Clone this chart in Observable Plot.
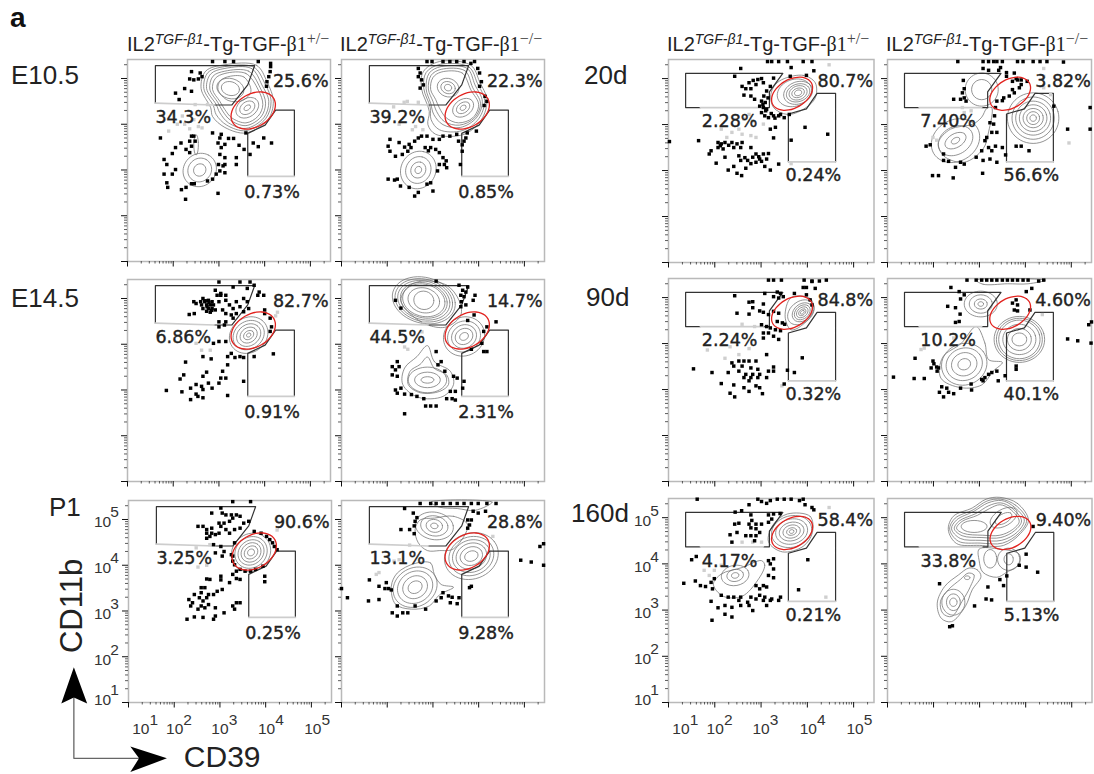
<!DOCTYPE html>
<html><head><meta charset="utf-8">
<script src="https://cdn.jsdelivr.net/npm/d3@7"></script>
<script src="https://cdn.jsdelivr.net/npm/@observablehq/plot@0.6"></script>
<style>
html,body{margin:0;padding:0;background:#fff}
#page{position:relative;width:1094px;height:774px;overflow:hidden;font-family:"Liberation Sans",sans-serif;color:#222}
.t{position:absolute;white-space:nowrap;line-height:1}
.title{font-size:20px;top:34px}
.title .s{font-size:14px;position:relative;top:-7px}
.title .b{font-family:"Liberation Serif",serif}
.title .s.b{font-size:16px;color:#444}
.row{font-size:26px}
</style></head><body><div id="page"></div>
<script>
// All values below are log10(CD39), log10(CD11b) pairs.
const rowNames = ["E10.5","E14.5","P1","20d","90d","160d"];
const xTicks = [1e1,1e2,1e3,1e4,1e5];
const yTicks = [1e1,1e2,1e3,1e4,1e5];
const xTickText = ["1","2","3","4","5"];
const yTickText = ["1","2","3","4","5"];

const gateUpperLeftBlack = [1.61,4.46,1.61,5.28,3.78,5.28,3.63,4.86,3.28,4.42,2.90,4.42];
const gateUpperLeftGray  = [2.90,4.42,1.61,4.46];
const gateLowerLeftBlack = [3.63,2.86,3.63,3.80,4.01,3.98,4.24,4.31,4.65,4.31,4.65,2.86];
const gateLowerLeftGray  = [4.65,2.86,3.63,2.86];
const gateUpperRightBlack = [1.69,4.37,1.37,4.37,1.37,5.115,3.47,5.115,3.18,4.71,3.18,4.37,3.05,4.37];
const gateUpperRightGray  = [3.05,4.37,1.69,4.37];
const gateLowerRightBlack = [3.59,3.19,3.59,4.23,3.98,4.34,4.21,4.68,4.61,4.68,4.61,3.19];
const gateLowerRightGray  = [4.61,3.19,3.59,3.19];
const redLeft  = [3.75,4.30,0.52,0.36,30];
const redRight = [3.67,4.67,0.48,0.31,30];

const pctE105Het = ["25.6%","34.3%","0.73%"];
const pctE105Ko  = ["22.3%","39.2%","0.85%"];
const pctE145Het = ["82.7%","6.86%","0.91%"];
const pctE145Ko  = ["14.7%","44.5%","2.31%"];
const pctP1Het   = ["90.6%","3.25%","0.25%"];
const pctP1Ko    = ["28.8%","13.1%","9.28%"];
const pct20Het   = ["80.7%","2.28%","0.24%"];
const pct20Ko    = ["3.82%","7.40%","56.6%"];
const pct90Het   = ["84.8%","2.24%","0.32%"];
const pct90Ko    = ["4.60%","10.2%","40.1%"];
const pct160Het  = ["58.4%","4.17%","0.21%"];
const pct160Ko   = ["9.40%","33.8%","5.13%"];
const pctSpotsLeft  = [4.79,4.93,2.22,4.16,4.16,2.52];
const pctSpotsRight = [4.82,4.94,2.32,4.06,4.13,2.89];

const dotsE105Het = [2.86,5.37,3.13,5.37,3.32,5.37,3.86,5.37,4.13,5.33,4.13,5.26,4.12,5.15,4.09,5.04,4.05,4.93,4.04,4.83,2.40,5.15,2.59,5.12,2.36,4.99,2.45,4.97,2.63,5.04,2.55,4.99,2.25,4.78,2.05,4.68,2.40,4.72,2.13,4.54,1.72,3.70,2.17,3.59,2.05,3.49,2.40,3.74,2.45,3.74,2.36,3.63,2.48,3.63,2.40,3.52,2.28,3.45,2.36,3.38,1.98,3.36,1.80,3.23,1.86,3.12,2.05,3.01,1.98,2.91,1.80,2.91,1.86,2.72,1.88,2.62,2.18,2.57,2.28,2.62,2.40,2.70,2.46,2.70,2.27,2.36,2.98,2.49,2.86,2.80,2.75,2.76,2.94,2.91,3.13,2.94,3.02,2.98,3.09,3.09,2.99,3.12,3.13,3.12,3.38,3.12,3.38,3.27,3.13,3.27,3.02,3.34,3.05,3.49,2.98,3.59,3.13,3.56,3.02,3.70,2.86,3.81,3.05,3.78,3.21,3.69,3.32,3.69,3.44,3.54,3.55,3.45,3.68,3.34,3.75,3.59,3.86,3.51,3.98,3.70,4.15,3.59,3.59,3.81];
const grayE105Het = [2.13,4.54,2.48,4.43,2.75,4.43,2.20,4.18,2.09,4.00,1.90,3.85,2.36,3.90,2.63,3.92,2.25,4.00,2.45,4.10,2.55,3.95];
const ringsE105Het = [[3.13,5.30,3.82,5.29,4.05,4.93,4.19,4.50,4.07,4.10,3.59,3.81,3.13,3.93,2.86,4.17,2.82,4.36,2.61,4.78,2.71,5.16],[3.13,5.26,3.76,5.25,4.00,4.90,4.14,4.50,4.02,4.12,3.59,3.86,3.17,3.98,2.94,4.21,2.88,4.40,2.67,4.78,2.76,5.13],[3.13,5.22,3.71,5.22,3.94,4.86,4.09,4.50,3.98,4.14,3.59,3.91,3.21,4.03,3.02,4.25,2.94,4.43,2.73,4.78,2.82,5.10],[3.13,5.16,3.65,5.16,3.90,4.80,4.02,4.46,3.92,4.16,3.59,3.97,3.25,4.09,3.08,4.29,2.98,4.47,2.80,4.77,2.87,5.05],[3.13,5.11,3.59,5.11,3.86,4.75,3.96,4.43,3.86,4.18,3.59,4.03,3.28,4.14,3.13,4.32,3.02,4.50,2.86,4.76,2.92,5.00],[3.25,5.05,3.55,5.03,3.70,4.72,3.52,4.52,3.20,4.52,2.98,4.76,3.03,4.95],[3.25,4.78,0.30,0.22,-15],[3.25,4.78,0.20,0.15,-15],[3.62,4.36,0.27,0.20,35],[3.62,4.36,0.18,0.13,35],[3.62,4.36,0.08,0.05,35],[2.58,3.00,0.38,0.35,45],[2.58,3.00,0.27,0.25,45],[2.58,3.00,0.14,0.13,45],[2.50,3.55,0.05,0.22,0]];

const dotsE105Ko = [2.87,5.37,2.98,5.37,3.22,5.37,3.37,5.37,3.52,5.37,3.68,5.37,3.91,5.37,2.68,5.22,2.72,5.12,2.75,4.97,2.68,5.04,2.79,4.86,2.72,4.79,3.83,5.33,3.98,5.22,4.02,5.12,4.06,4.93,4.02,4.83,4.14,4.61,4.18,4.50,4.12,4.41,2.06,3.67,2.02,3.52,2.06,3.41,2.18,3.30,2.33,3.34,2.45,3.41,2.52,3.49,2.48,3.56,2.68,3.70,2.87,3.74,2.95,3.49,2.83,3.49,3.06,3.45,3.14,3.38,3.22,3.27,3.29,3.20,3.14,3.12,3.25,3.12,3.10,2.98,2.95,2.72,2.87,2.69,2.68,2.51,2.60,2.43,3.00,2.54,2.02,2.80,2.22,2.80,2.29,2.65,2.48,2.62,3.60,3.12,3.64,3.41,3.68,3.63,3.72,3.70,3.52,3.78,3.37,3.74,3.22,3.74,3.14,3.67,3.56,3.63,3.75,3.81,3.95,3.85,2.60,3.63,2.75,3.74,3.00,3.67,2.26,3.60,2.38,3.50,3.64,3.55,3.30,3.05,2.16,2.78,2.90,3.42];
const grayE105Ko = [2.37,4.48,2.44,4.50,2.14,4.38,2.68,4.48,2.26,4.00,1.95,4.04,2.55,3.88,2.78,3.88,2.62,3.95,4.18,4.54];
const ringsE105Ko = [[3.14,5.37,3.83,5.29,4.02,4.93,4.18,4.53,4.06,4.10,3.68,3.78,3.06,3.78,2.89,3.99,2.92,4.28,2.75,4.78,2.79,5.15],[3.16,5.31,3.79,5.25,3.97,4.90,4.13,4.52,4.00,4.12,3.64,3.86,3.14,3.88,2.96,4.10,2.94,4.37,2.80,4.78,2.85,5.13],[3.18,5.26,3.75,5.22,3.92,4.86,4.08,4.50,3.95,4.14,3.60,3.93,3.22,3.99,3.02,4.21,2.95,4.46,2.85,4.78,2.92,5.12],[3.18,5.20,3.70,5.17,3.87,4.80,4.04,4.46,3.91,4.14,3.58,3.98,3.25,4.06,3.08,4.28,3.00,4.50,2.90,4.77,2.96,5.07],[3.18,5.14,3.64,5.12,3.83,4.75,4.00,4.43,3.87,4.14,3.56,4.03,3.29,4.14,3.14,4.36,3.06,4.54,2.95,4.76,3.00,5.02],[3.33,4.80,0.24,0.20,-20],[3.33,4.80,0.16,0.13,-20],[3.33,4.80,0.08,0.07,-20],[3.66,4.36,0.25,0.18,35],[3.66,4.36,0.16,0.11,35],[3.66,4.36,0.07,0.05,35],[2.68,3.00,0.42,0.38,60],[2.68,3.00,0.30,0.27,60],[2.68,3.00,0.18,0.16,60],[2.68,3.00,0.08,0.07,60]];

const dotsE145Het = [3.00,5.36,3.46,5.36,3.68,5.36,2.92,5.18,3.31,5.25,3.77,5.29,3.62,5.22,3.88,5.14,3.98,5.07,3.85,5.07,2.45,4.93,2.50,4.89,2.65,5.00,2.69,4.93,2.77,4.96,2.85,4.93,2.62,4.86,2.73,4.86,2.81,4.86,2.88,4.86,2.65,4.78,2.77,4.78,2.85,4.78,2.73,4.72,2.81,4.70,2.92,4.75,3.00,4.93,3.04,5.07,3.15,4.96,3.23,4.86,3.31,4.78,3.38,4.93,3.54,5.00,3.62,4.93,3.46,4.82,3.65,4.78,3.15,4.67,3.08,4.75,3.27,4.64,2.35,4.65,2.46,4.67,3.00,4.49,3.15,4.49,3.31,4.57,3.04,5.11,2.96,5.07,3.15,5.07,3.54,4.71,3.38,4.67,2.70,4.95,2.78,4.91,2.74,4.82,2.60,4.93,2.84,4.74,4.00,4.67,4.12,4.57,4.15,4.38,4.12,4.28,4.00,4.75,3.00,4.38,3.12,4.42,3.00,4.06,3.15,4.06,2.88,4.02,2.65,3.73,2.83,3.68,2.27,3.61,3.19,3.73,3.27,3.80,3.35,3.71,3.46,3.73,3.54,3.71,3.77,3.73,4.19,3.79,3.19,3.55,3.08,3.41,2.73,3.39,2.65,3.30,2.23,3.33,2.15,3.24,3.04,3.26,3.15,3.26,2.77,3.15,2.62,3.08,2.50,3.12,2.38,3.04,2.65,3.01,2.85,3.04,3.00,3.15,1.85,2.99,2.19,2.96,2.54,2.86,2.65,2.83,2.38,2.79,3.19,2.88,3.54,3.19,2.50,2.91];
const grayE145Het = [2.62,3.87,2.81,3.87,2.50,4.02,4.24,4.62,4.28,4.70];
const ringsE145Het = [[3.65,4.20,0.44,0.38,35],[3.65,4.20,0.36,0.30,35],[3.65,4.20,0.28,0.23,35],[3.65,4.20,0.20,0.16,35],[3.65,4.20,0.12,0.09,35],[3.65,4.20,0.05,0.04,35]];

const dotsE145Ko = [3.07,5.38,3.57,5.29,3.76,5.25,3.65,5.18,3.72,5.14,3.92,5.07,3.61,5.07,3.68,5.04,3.88,4.96,3.62,4.93,3.72,4.86,3.61,4.82,2.18,4.96,2.30,4.79,3.90,4.64,3.76,4.52,4.38,4.49,4.18,4.38,4.11,4.28,4.07,4.02,4.11,3.84,4.18,3.84,3.84,3.89,3.07,3.84,3.18,3.62,3.11,3.55,2.11,3.51,2.22,3.62,2.26,3.51,2.18,3.44,2.11,3.33,2.22,3.30,3.26,3.41,3.45,3.30,3.53,3.26,3.68,3.19,3.38,2.97,3.49,2.97,3.65,3.04,2.18,3.00,2.30,3.04,2.22,2.93,2.38,2.91,2.53,2.90,2.65,2.86,3.30,2.81,3.42,2.81,3.49,2.78,2.38,2.48,2.84,2.65,2.95,2.65,3.07,2.65,2.80,2.81];
const grayE145Ko = [2.38,3.94,2.45,3.89,2.80,4.49,2.76,4.27];
const ringsE145Ko = [[2.76,5.38,3.30,5.29,3.57,4.96,3.61,4.64,3.30,4.38,2.92,4.41,2.53,4.64,2.30,4.96,2.45,5.25],[2.80,4.96,0.70,0.50,-15],[2.80,4.96,0.64,0.46,-15],[2.80,4.96,0.58,0.42,-15],[2.80,4.96,0.52,0.38,-15],[2.80,4.96,0.47,0.35,-15],[2.80,4.96,0.35,0.27,-15],[2.80,4.96,0.22,0.20,-15],[3.68,4.17,0.46,0.42,30],[3.68,4.17,0.37,0.33,30],[3.68,4.17,0.28,0.25,30],[3.68,4.17,0.20,0.17,30],[3.68,4.17,0.10,0.08,30],[2.88,3.97,3.03,3.62,3.38,3.41,3.45,3.12,3.22,2.86,2.68,2.84,2.34,3.12,2.38,3.48,2.65,3.73],[2.88,3.72,3.03,3.47,3.30,3.33,3.34,3.12,3.15,2.97,2.72,2.94,2.46,3.12,2.50,3.41,2.72,3.56],[2.88,3.22,0.42,0.28,0],[2.88,3.22,0.28,0.17,0],[2.88,3.22,0.14,0.07,0]];

const dotsP1Het = [3.28,5.39,3.67,5.39,3.02,5.25,3.05,5.14,3.13,5.10,3.25,5.10,3.36,5.10,3.44,5.07,2.82,5.14,3.28,5.03,3.09,4.92,3.21,4.96,3.52,4.92,3.63,4.96,2.98,4.92,2.52,4.85,2.63,4.85,2.71,4.78,2.82,4.81,3.02,4.85,3.13,4.78,3.32,4.78,3.44,4.81,2.71,4.70,2.82,4.70,2.98,4.70,3.21,4.70,2.78,4.63,2.90,4.67,2.71,4.59,3.02,4.41,2.86,4.45,3.32,4.49,3.09,4.30,2.90,4.27,3.05,4.20,3.25,4.23,3.75,4.74,3.90,4.70,4.02,4.63,4.09,4.56,4.15,4.49,4.19,4.41,4.25,4.34,3.28,4.20,3.28,4.09,3.32,4.01,3.44,3.91,3.55,3.87,3.67,3.87,3.78,3.91,3.94,3.98,3.98,3.76,3.98,3.64,3.36,3.87,3.28,3.80,3.36,3.71,3.44,3.69,3.21,3.62,3.02,3.76,3.02,3.68,2.71,3.70,2.78,3.69,3.05,3.47,2.94,3.43,2.67,3.51,2.59,3.51,2.59,3.40,2.44,3.36,2.75,3.36,2.86,3.36,2.55,3.29,2.71,3.29,2.32,3.25,2.63,3.22,2.40,3.18,2.75,3.14,2.36,3.11,2.59,3.11,2.67,3.07,2.52,3.04,2.90,3.07,3.09,2.96,3.28,3.11,3.36,3.18,3.44,3.18,3.32,3.04,2.28,2.82,2.44,2.87,2.63,2.86,2.86,2.82,2.90,2.89];
const grayP1Het = [2.52,3.96,2.71,4.00,2.48,4.38,2.78,4.45,4.25,4.77];
const ringsP1Het = [[3.68,4.28,0.45,0.40,40],[3.68,4.28,0.37,0.33,40],[3.68,4.28,0.30,0.26,40],[3.68,4.28,0.23,0.20,40],[3.68,4.28,0.16,0.13,40],[3.68,4.28,0.08,0.07,40]];

const dotsP1Ko = [2.72,5.35,2.95,5.35,3.07,5.35,3.22,5.35,3.38,5.35,3.53,5.35,3.68,5.35,3.84,5.35,3.99,5.35,4.18,5.35,4.38,5.35,2.38,5.24,2.57,5.14,2.65,5.04,2.61,4.96,2.59,4.86,2.30,4.78,2.49,4.78,2.59,4.69,3.76,4.99,3.84,4.99,3.80,4.88,3.76,4.81,3.99,5.14,4.15,5.18,3.88,5.18,1.61,3.68,1.82,3.54,1.98,3.62,2.03,3.49,2.09,3.46,1.95,3.49,1.59,3.22,1.82,3.25,2.11,2.96,2.22,2.89,2.34,2.96,2.45,2.96,2.22,3.11,2.61,3.11,2.84,3.04,3.07,3.22,3.18,3.29,3.22,3.40,3.34,3.33,3.42,3.30,3.57,3.29,3.38,3.18,3.53,3.16,3.80,3.51,3.84,3.54,1.13,3.29,1.00,3.49,4.92,4.11,5.15,4.07,5.42,4.00,5.34,4.41,5.42,4.47];
const grayP1Ko = [2.49,4.44,2.26,4.12,2.15,4.09,1.76,3.80,1.82,3.84,4.31,4.63];
const ringsP1Ko = [[3.03,5.03,3.45,5.07,3.76,4.88,3.45,4.36,3.14,4.32,2.88,4.32,2.68,4.49,2.61,4.78,2.72,4.99],[3.03,4.86,0.42,0.30,-10],[3.03,4.86,0.30,0.22,-10],[3.03,4.86,0.18,0.14,-10],[3.03,4.86,0.08,0.06,-10],[2.61,3.52,0.50,0.42,30],[2.61,3.52,0.40,0.34,30],[2.61,3.52,0.28,0.24,30],[2.61,3.52,0.16,0.13,30],[3.84,4.20,0.60,0.50,20],[3.84,4.20,0.50,0.42,20],[3.84,4.20,0.42,0.35,20],[3.84,4.20,0.34,0.28,20],[3.84,4.20,0.25,0.20,20],[3.84,4.20,0.15,0.11,20],[2.61,4.04,2.95,4.05,3.03,3.80,3.18,3.58,3.45,3.52,3.15,3.36,2.92,3.11,2.53,3.04,2.18,3.15,2.09,3.54,2.22,3.83],[2.95,5.38,4.30,5.38,3.92,5.20,3.53,5.24,3.14,5.27]];

const dots20Het = [3.14,5.37,3.23,5.37,3.38,5.37,3.57,5.37,3.91,5.37,4.10,5.37,2.56,5.22,2.43,5.05,3.65,5.24,3.63,5.05,3.98,5.07,4.14,5.17,3.01,5.00,2.93,4.98,2.83,4.96,2.74,4.91,2.59,4.83,2.67,4.78,2.78,4.78,2.89,4.87,3.05,4.91,2.63,4.64,2.78,4.62,2.86,4.55,3.27,5.01,3.20,4.83,3.12,4.73,3.06,4.62,3.01,4.51,2.97,4.40,3.05,4.37,3.12,4.33,3.01,4.26,3.08,4.19,3.16,4.15,3.27,4.19,3.38,4.19,3.50,4.15,3.61,4.22,3.20,3.90,3.31,3.94,3.27,3.71,3.95,3.94,4.44,3.79,3.65,3.66,1.65,3.65,1.02,3.63,2.07,3.61,2.14,3.58,2.22,3.61,2.37,3.61,2.48,3.58,2.59,3.61,2.07,3.50,2.18,3.47,2.41,3.50,2.56,3.50,2.78,3.50,1.92,3.43,1.88,3.36,2.22,3.29,2.52,3.32,2.89,3.36,3.05,3.36,3.16,3.37,2.82,3.29,2.97,3.25,3.12,3.25,2.71,3.22,2.89,3.18,3.01,3.20,2.03,3.16,2.56,3.22,2.41,3.09,2.29,3.01,2.48,2.94,2.58,2.89,2.67,3.05,3.08,3.09,3.20,3.01,3.38,3.14,3.09,4.48,3.04,4.44,3.15,4.58,3.10,4.30,3.22,4.24,3.30,4.14,3.42,4.22,2.12,3.54,2.30,3.55,2.65,3.28,2.78,3.15,2.95,3.30];
const gray20Het = [2.74,4.22,2.63,4.12,2.82,4.08,2.52,3.90,2.37,3.83,2.14,3.90,2.26,3.72,2.59,3.79,2.78,3.76,2.89,3.72,3.05,4.01,4.47,5.30,3.65,3.15];
const rings20Het = [[3.50,5.00,3.91,5.07,4.17,4.91,4.17,4.58,3.91,4.33,3.57,4.22,3.27,4.37,3.21,4.65,3.31,4.87],[3.72,4.69,0.38,0.29,20],[3.80,4.69,0.32,0.24,20],[3.80,4.69,0.26,0.19,20],[3.80,4.69,0.20,0.15,20],[3.80,4.69,0.14,0.10,20],[3.80,4.69,0.08,0.06,20]];

const dots20Ko = [2.53,5.37,3.08,5.37,3.20,5.37,3.31,5.37,3.38,5.37,3.50,5.37,3.83,5.37,3.95,5.37,4.17,5.37,4.32,5.37,4.47,5.37,4.83,5.36,3.08,5.22,3.20,5.18,3.42,5.18,3.46,5.24,3.59,5.13,3.59,5.05,3.76,5.12,3.80,5.00,3.72,4.94,3.83,4.97,3.91,4.97,4.04,4.94,3.72,4.76,3.87,4.80,3.91,4.87,3.76,4.69,3.65,4.62,3.53,4.58,3.50,4.52,3.38,4.51,3.35,4.37,3.33,4.19,3.31,4.01,3.23,4.04,3.27,3.83,3.38,3.83,3.16,3.72,3.12,3.65,3.20,3.50,3.35,3.53,3.50,3.50,3.27,3.43,3.05,3.43,2.93,3.29,3.08,3.22,3.23,3.25,3.38,3.18,3.57,3.34,3.80,3.53,3.91,3.53,4.08,3.43,4.62,4.40,4.92,3.90,5.41,4.37,5.41,3.90,2.65,4.96,2.67,4.78,2.63,4.69,2.67,4.58,2.44,4.55,2.59,4.55,2.71,4.51,1.84,3.53,1.93,3.56,2.22,3.22,2.33,3.20,2.59,3.18,2.48,3.07,2.67,3.14,1.98,2.89,2.11,2.89,2.43,2.84,3.07,2.94,2.22,3.36];
const gray20Ko = [2.63,4.37,2.67,4.26,2.82,4.30,1.99,3.72,2.07,3.66,4.95,3.60,4.40,5.22,4.40,5.05,4.55,4.65,4.40,4.80];
const rings20Ko = [[3.05,4.76,0.36,0.36,0],[3.05,4.76,0.22,0.22,0],[3.16,4.35,3.27,4.37,3.20,3.84,3.08,3.47,2.67,3.18,2.22,3.32,2.11,3.61,2.37,3.90,2.86,4.01,3.05,4.16],[2.48,3.65,0.55,0.45,30],[2.48,3.65,0.40,0.30,30],[2.48,3.65,0.25,0.15,30],[2.48,3.65,0.10,0.06,30],[4.17,4.14,0.56,0.55,0],[4.17,4.14,0.46,0.46,0],[4.17,4.14,0.38,0.37,0],[4.17,4.14,0.30,0.29,0],[4.17,4.14,0.22,0.21,0],[4.17,4.14,0.14,0.14,0],[4.17,4.14,0.07,0.07,0]];

const dots90Het = [3.16,5.38,3.27,5.38,3.44,5.38,3.93,5.38,4.10,5.36,4.26,5.36,4.41,5.38,3.91,5.22,3.98,5.22,4.17,5.20,4.10,5.35,2.43,5.04,3.08,5.09,3.35,5.12,3.42,5.09,3.48,5.02,3.27,5.02,3.38,4.99,3.72,5.09,3.98,5.06,4.06,4.95,4.10,4.84,2.82,4.91,2.74,4.90,3.05,4.86,2.82,4.78,2.97,4.71,3.05,4.68,2.48,4.66,2.74,4.64,3.16,4.63,3.38,4.66,3.27,4.70,3.35,4.48,3.46,4.45,3.51,4.42,3.01,4.41,3.12,4.37,3.20,4.34,3.31,4.30,3.42,4.28,3.05,4.23,3.16,4.23,3.27,4.16,3.38,4.09,3.05,4.12,3.12,3.76,3.89,3.69,1.54,3.45,1.94,3.37,2.37,3.58,2.52,3.62,2.63,3.62,2.74,3.62,2.89,3.62,2.41,3.51,2.59,3.51,2.78,3.47,2.93,3.44,2.52,3.40,2.29,3.37,2.67,3.33,2.82,3.33,2.97,3.33,2.63,3.26,2.78,3.26,2.93,3.26,3.12,3.26,3.27,3.40,3.27,3.49,3.16,3.40,3.57,3.42,3.72,3.37,2.14,3.13,2.41,3.10,2.63,3.04,2.74,3.19,2.89,3.08,2.97,3.04,2.33,2.92,2.43,2.84,2.74,2.96,3.03,2.91,3.50,3.12];
const gray90Het = [1.84,3.86,2.33,3.93,2.52,3.76,2.22,3.68,2.74,3.89,2.86,4.37,2.59,4.42,3.45,3.08];
const rings90Het = [[3.65,5.00,4.06,4.98,4.14,4.74,3.91,4.42,3.65,4.30,3.52,4.58],[3.86,4.68,0.32,0.23,40],[3.89,4.68,0.24,0.18,40],[3.89,4.68,0.19,0.14,40],[3.89,4.68,0.14,0.10,40],[3.89,4.68,0.09,0.06,40],[3.89,4.68,0.05,0.03,40]];

const dots90Ko = [2.73,5.38,2.93,5.38,3.05,5.38,3.16,5.38,3.27,5.38,3.38,5.38,3.50,5.38,3.61,5.38,3.72,5.38,3.83,5.38,3.95,5.38,4.06,5.38,4.29,5.36,4.40,5.38,2.38,5.22,2.56,5.13,2.67,5.06,2.59,4.97,4.14,5.20,4.02,5.13,3.80,4.95,3.72,4.88,3.83,4.84,3.76,4.73,3.83,4.71,4.10,4.73,2.31,4.81,2.48,4.78,2.58,4.64,2.56,4.48,2.48,4.46,1.60,3.68,1.99,3.62,2.01,3.56,1.95,3.47,2.07,3.49,2.11,3.47,2.08,3.40,1.13,3.27,1.58,3.24,1.80,3.24,3.12,3.26,3.05,3.22,3.08,3.19,3.20,3.33,3.27,3.37,3.38,3.40,3.41,3.19,3.56,3.30,3.80,3.51,3.80,3.44,2.18,3.06,2.13,2.94,2.22,2.84,2.29,3.03,2.33,2.94,2.44,2.91,2.59,3.03,2.82,3.12,2.83,2.99,4.92,4.10,5.14,4.06,5.43,4.01,5.38,4.41,5.44,4.47];
const gray90Ko = [1.73,3.87,1.80,3.90,2.44,4.12,4.37,4.63];
const rings90Ko = [[3.03,4.86,0.36,0.28,0],[3.03,4.86,0.25,0.20,0],[3.03,4.86,0.14,0.11,0],[3.03,4.86,0.06,0.05,0],[3.87,4.09,0.55,0.50,0],[3.87,4.09,0.50,0.46,0],[3.87,4.09,0.45,0.42,0],[3.87,4.09,0.36,0.33,0],[3.87,4.09,0.26,0.24,0],[3.87,4.09,0.16,0.14,0],[2.67,3.55,0.50,0.45,20],[2.67,3.55,0.40,0.35,20],[2.67,3.55,0.28,0.25,20],[2.67,3.55,0.14,0.12,20],[2.93,4.37,3.12,4.01,3.20,3.65,3.50,3.59,3.30,3.40,3.05,3.10,2.60,3.04,2.16,3.25,2.20,3.70,2.60,4.00],[2.93,5.38,3.08,5.29,3.61,5.30,4.06,5.30,4.44,5.38]];

const dots160Het = [1.62,5.40,2.74,5.28,2.93,5.40,3.01,5.35,3.12,5.31,3.20,5.37,3.35,5.40,3.50,5.40,3.65,5.40,3.83,5.37,3.91,5.40,3.95,5.28,4.10,5.22,4.14,5.17,2.44,5.12,2.58,5.15,2.78,5.06,3.16,5.06,3.27,5.08,3.41,5.09,2.80,4.94,2.74,4.86,2.89,4.86,3.01,4.86,2.52,4.88,2.43,4.86,2.78,4.78,2.89,4.76,2.97,4.68,3.16,4.90,3.23,4.97,2.33,4.63,2.48,4.68,2.67,4.61,2.78,4.61,2.89,4.61,2.37,4.47,2.86,4.50,1.50,4.09,1.60,4.16,1.58,3.63,1.33,3.58,1.69,3.53,1.80,3.51,1.92,3.60,1.95,3.46,1.99,3.68,3.16,4.07,3.27,4.11,3.20,4.00,3.27,3.89,3.16,3.75,3.27,3.70,2.89,3.53,3.05,3.53,2.97,3.46,3.12,3.50,2.14,3.32,2.29,3.28,2.41,3.28,2.56,3.28,2.78,3.28,2.97,3.32,3.08,3.28,3.23,3.24,3.42,3.28,2.52,3.21,2.71,3.17,2.89,3.24,3.05,3.21,3.20,3.21,3.38,3.21,1.92,3.19,2.07,3.05,2.22,3.10,2.37,3.06,2.56,3.10,2.74,3.10,2.82,2.99,3.12,3.10,2.22,2.91,2.37,2.85,1.94,2.78,4.01,4.09,3.81,3.44];
const gray160Het = [1.99,3.86,2.14,3.97,2.59,4.47,2.82,4.47,3.01,4.47,1.88,3.75,1.77,3.86,4.47,5.22,4.40,3.28];
const rings160Het = [[3.57,5.08,4.06,5.03,4.11,4.68,3.91,4.38,3.46,4.26,3.16,4.48,3.27,4.86],[3.66,4.70,0.44,0.34,15],[3.66,4.70,0.35,0.27,15],[3.66,4.70,0.27,0.20,15],[3.66,4.70,0.19,0.14,15],[3.66,4.70,0.11,0.08,15],[3.66,4.70,0.05,0.04,15],[3.01,4.07,3.08,3.97,2.93,3.65,2.59,3.30,2.18,3.30,1.97,3.56,2.14,3.78,2.59,3.92],[2.44,3.75,0.30,0.22,10],[2.44,3.75,0.18,0.13,10],[2.44,3.75,0.08,0.06,10]];

const dots160Ko = [4.16,4.81,4.01,4.21,3.86,3.97,4.01,3.93,4.26,3.82,3.59,3.74,3.44,3.66,3.52,3.53,3.18,3.50,2.13,3.57,3.14,3.24,3.26,3.22,2.89,3.09,2.35,2.64,2.41,2.66];
const gray160Ko = [];
const rings160Ko = [[3.44,5.44,3.82,5.31,4.06,4.95,3.89,4.66,3.52,4.40,3.00,4.40,2.50,4.44,2.32,4.74,2.43,5.03,2.84,5.21,3.14,5.40],[3.46,5.40,3.78,5.27,4.02,4.95,3.86,4.67,3.50,4.45,3.01,4.45,2.54,4.49,2.35,4.75,2.47,4.99,2.86,5.17,3.16,5.36],[3.48,5.37,3.74,5.24,3.97,4.95,3.82,4.69,3.48,4.51,3.03,4.51,2.58,4.55,2.39,4.76,2.50,4.95,2.88,5.14,3.18,5.32],[3.46,5.32,3.70,5.21,3.91,4.93,3.76,4.72,3.46,4.57,3.05,4.57,2.62,4.61,2.45,4.76,2.56,4.93,2.92,5.09,3.20,5.26],[3.44,5.28,3.67,5.18,3.86,4.92,3.71,4.74,3.44,4.62,3.07,4.62,2.65,4.66,2.50,4.77,2.62,4.92,2.95,5.05,3.22,5.20],[2.88,4.81,0.28,0.13,0],[3.52,5.00,0.32,0.18,30],[3.52,4.98,0.20,0.10,30],[3.23,4.11,0.14,0.20,0],[3.63,4.10,0.10,0.12,0],[3.63,4.10,0.24,0.24,0],[2.99,4.32,3.44,4.32,3.86,4.21,3.86,4.00,3.59,3.82,3.37,3.71,3.07,3.82,2.99,4.07],[2.77,3.91,2.95,3.87,3.03,3.73,2.84,3.44,2.69,3.08,2.39,2.75,2.17,2.82,2.08,3.15,2.24,3.51,2.54,3.76],[2.75,3.80,2.88,3.76,2.80,3.51,2.62,3.19,2.39,2.86,2.20,2.93,2.15,3.19,2.32,3.44,2.58,3.66],[2.43,3.17,0.25,0.28,0],[2.43,3.17,0.15,0.18,0],[2.43,3.17,0.08,0.09,0],[2.73,3.70,0.06,0.04,0]];

// layout of the twelve frames on the page
const frames = [
 {left:127.3,top:59,w:203,h:202,side:"L",dots:dotsE105Het,gray:grayE105Het,rings:ringsE105Het,pct:pctE105Het},
 {left:340.7,top:59,w:203,h:202,side:"L",dots:dotsE105Ko,gray:grayE105Ko,rings:ringsE105Ko,pct:pctE105Ko},
 {left:126.5,top:279,w:203,h:202,side:"L",dots:dotsE145Het,gray:grayE145Het,rings:ringsE145Het,pct:pctE145Het},
 {left:340.7,top:279,w:203,h:202,side:"L",dots:dotsE145Ko,gray:grayE145Ko,rings:ringsE145Ko,pct:pctE145Ko},
 {left:127.5,top:500,w:203,h:202,side:"L",dots:dotsP1Het,gray:grayP1Het,rings:ringsP1Het,pct:pctP1Het,lab:true,arrows:true},
 {left:340.7,top:500,w:203,h:202,side:"L",dots:dotsP1Ko,gray:grayP1Ko,rings:ringsP1Ko,pct:pctP1Ko},
 {left:667.5,top:59,w:205.5,h:203,side:"R",dots:dots20Het,gray:gray20Het,rings:rings20Het,pct:pct20Het},
 {left:887,top:59,w:204,h:203,side:"R",dots:dots20Ko,gray:gray20Ko,rings:rings20Ko,pct:pct20Ko},
 {left:667.5,top:278,w:205.5,h:203,side:"R",dots:dots90Het,gray:gray90Het,rings:rings90Het,pct:pct90Het},
 {left:887,top:278,w:204,h:203,side:"R",dots:dots90Ko,gray:gray90Ko,rings:rings90Ko,pct:pct90Ko},
 {left:667.5,top:498,w:205.5,h:204,side:"R",dots:dots160Het,gray:gray160Het,rings:rings160Het,pct:pct160Het,lab:true},
 {left:886.5,top:498,w:204.5,h:204,side:"R",dots:dots160Ko,gray:gray160Ko,rings:rings160Ko,pct:pct160Ko}
];

const pow = v => 10 ** v;
const pairs = flat => d3.range(0, flat.length, 2).map(i => ({x: pow(flat[i]), y: pow(flat[i+1])}));
const ellipse = ([cx,cy,a,b,deg]) => { const r = deg*Math.PI/180;
  return d3.range(24).map(i => { const t = i/24*2*Math.PI;
    return {x: pow(cx + a*Math.cos(t)*Math.cos(r) - b*Math.sin(t)*Math.sin(r)),
            y: pow(cy + a*Math.cos(t)*Math.sin(r) + b*Math.sin(t)*Math.cos(r))}; }); };
const ringRows = rings => rings.flatMap((r,k) => (r.length===5 ? ellipse(r) : pairs(r)).map(p => ({...p, k})));
const minor = d3.range(1,6).flatMap(e => d3.range(2,10).map(m => m*10**e)).filter(v => v < 10**5.41);

const ML=80, MR=45, MT=3, MB=72;
const page = document.getElementById("page");
const SANS = "Liberation Sans";

for (const f of frames) {
  const L = f.side==="L";
  const spots = L ? pctSpotsLeft : pctSpotsRight;
  const pctRows = f.pct.map((t,i) => ({t, x:pow(spots[i*2]), y:pow(spots[i*2+1])}));
  const g = L ? [gateUpperLeftBlack,gateLowerLeftBlack,gateUpperLeftGray,gateLowerLeftGray]
              : [gateUpperRightBlack,gateLowerRightBlack,gateUpperRightGray,gateLowerRightGray];
  const marks = [
    Plot.frame({stroke:"#b9b9b9",strokeWidth:1.5}),
    Plot.axisX({ticks:minor,tickSize:2.5,tickFormat:()=>"",stroke:"#333",strokeWidth:.8,label:null}),
    Plot.axisY({ticks:minor,tickSize:3,tickFormat:()=>"",stroke:"#333",strokeWidth:.8,label:null}),
    Plot.axisX({ticks:xTicks,tickSize:5.5,tickFormat:()=>"",stroke:"#111",strokeWidth:1,label:null}),
    Plot.axisY({ticks:yTicks,tickSize:6,tickFormat:()=>"",stroke:"#111",strokeWidth:1,label:null}),
    Plot.line(ringRows(f.rings),{x:"x",y:"y",z:"k",curve:"catmull-rom-closed",stroke:"#707070",strokeWidth:.75}),
    Plot.line(pairs(g[0]),{x:"x",y:"y",fill:"none",stroke:"#333",strokeWidth:1.2}),
    Plot.line(pairs(g[1]),{x:"x",y:"y",fill:"none",stroke:"#333",strokeWidth:1.2}),
    Plot.line(pairs(g[2]),{x:"x",y:"y",fill:"none",stroke:"#cdcdcd",strokeWidth:1.7}),
    Plot.line(pairs(g[3]),{x:"x",y:"y",fill:"none",stroke:"#cdcdcd",strokeWidth:1.7}),
    Plot.dot(pairs(f.gray),{x:"x",y:"y",symbol:"square",r:1.9,fill:"#cfcfcf",stroke:null}),
    Plot.dot(pairs(f.dots),{x:"x",y:"y",symbol:"square",r:1.95,fill:"#000",stroke:null}),
    Plot.line(ellipse(L?redLeft:redRight),{x:"x",y:"y",curve:"catmull-rom-closed",stroke:"#e2231f",strokeWidth:1.3}),
    Plot.text(pctRows,{x:"x",y:"y",text:"t",fontSize:17.5,fontFamily:"DejaVu Sans",fill:"#222",stroke:"#222",strokeWidth:.4})
  ];
  if (f.lab) {
    const xs = [1.27,2.01,3.0,4.02,5.03].map(pow);
    const ys = [1.12,2.0,3.0,4.0,5.0].map(pow);
    const common = {fontFamily:SANS,fill:"#333",fontSize:15.5};
    marks.push(
      Plot.text(xTicks.map((v,i)=>({x:xs[i],y:10})),{x:"x",y:"y",text:()=>"10",dy:27,...common}),
      Plot.text(xTickText.map((t,i)=>({t,x:xs[i],y:10})),{x:"x",y:"y",text:"t",dy:18,dx:13,...common}),
      Plot.text(yTicks.map((v,i)=>({x:10,y:ys[i]})),{x:"x",y:"y",text:()=>"10",dx:-26,dy:3,...common}),
      Plot.text(yTickText.map((t,i)=>({t,x:10,y:ys[i]})),{x:"x",y:"y",text:"t",dx:-14,dy:-7,...common})
    );
  }
  if (f.arrows) {
    const head1 = [-0.195,1.77,0.096,0.98,-0.195,1.11,-0.47,0.98,-0.195,1.77];
    const head2 = [1.84,-0.22,1.04,0.04,1.23,-0.22,1.04,-0.52,1.84,-0.22];
    marks.push(
      Plot.line(pairs([-0.195,1.3,-0.195,-0.22,1.5,-0.22]),{x:"x",y:"y",stroke:"#666",strokeWidth:1.3}),
      Plot.line(pairs(head1),{x:"x",y:"y",fill:"#000",stroke:null}),
      Plot.line(pairs(head2),{x:"x",y:"y",fill:"#000",stroke:null}),
      Plot.text([{x:pow(-0.244),y:pow(3.11)}],{x:"x",y:"y",text:()=>"CD11b",rotate:-90,fontSize:31,fontFamily:SANS,fill:"#222"}),
      Plot.text([{x:pow(2.21),y:pow(-0.2)}],{x:"x",y:"y",text:()=>"CD39",textAnchor:"start",fontSize:30,fontFamily:SANS,fill:"#222"})
    );
  }
  const svg = Plot.plot({
    width:f.w+ML+MR, height:f.h+MT+MB, marginLeft:ML, marginRight:MR, marginTop:MT, marginBottom:MB,
    x:{type:"log",domain:[10,10**5.44],axis:null},
    y:{type:"log",domain:[10,10**5.415],axis:null},
    style:{position:"absolute",left:(f.left-ML)+"px",top:(f.top-MT)+"px",background:"transparent",overflow:"visible",maxWidth:"none"},
    marks
  });
  page.appendChild(svg);
}

const het = 'IL2<span class="s"><i>TGF-β1</i></span>-Tg-TGF-<span class="b">β1</span><span class="s b">+/−</span>';
const ko  = 'IL2<span class="s"><i>TGF-β1</i></span>-Tg-TGF-<span class="b">β1</span><span class="s b">−/−</span>';
[[127,het],[340,ko],[667,het],[886,ko]].forEach(([x,h])=>{
  const d=document.createElement("div"); d.className="t title"; d.style.left=x+"px"; d.innerHTML=h; page.appendChild(d);
});
const rowSpots = [[11,62],[11,285],[49,494],[584,62],[586,284],[571,500]];
rowNames.forEach((n,i)=>{
  const d=document.createElement("div"); d.className="t row"; d.style.left=rowSpots[i][0]+"px"; d.style.top=rowSpots[i][1]+"px"; d.textContent=n; page.appendChild(d);
});
const a=document.createElement("div"); a.className="t"; a.style.cssText="left:10px;top:4px;font-size:28px;font-weight:bold;color:#111"; a.textContent="a"; page.appendChild(a);
</script></body></html>
